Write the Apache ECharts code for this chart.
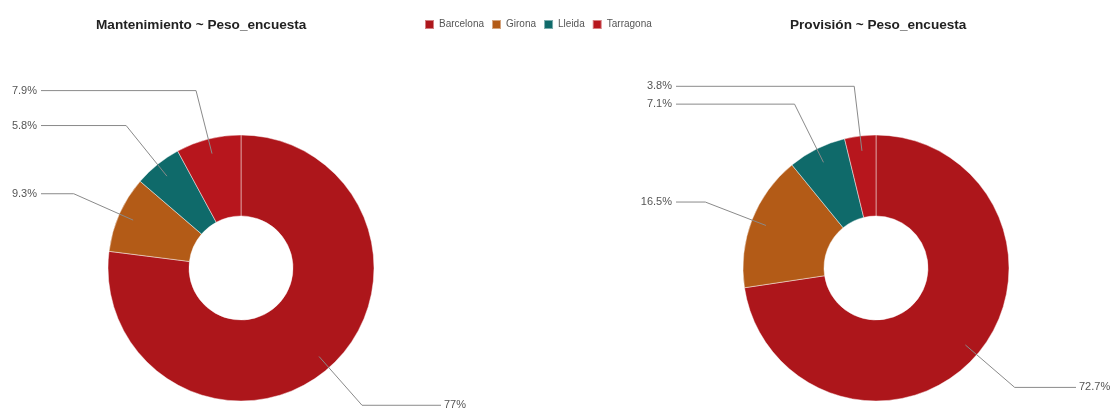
<!DOCTYPE html>
<html>
<head>
<meta charset="utf-8">
<script src="https://cdn.jsdelivr.net/npm/echarts@6/dist/echarts.min.js"></script>
<style>
  html, body { margin: 0; padding: 0; background: #fff; }
  #chart { width: 1114px; height: 408px; }
</style>
</head>
<body>
<div id="chart"></div>
<script>
// Survey-weighted shares by province
const provinces = ['Barcelona', 'Girona', 'Lleida', 'Tarragona'];
const mantenimiento = [77, 9.3, 5.8, 7.9];
const provision = [72.7, 16.5, 7.1, 3.8];
const titles = ['Mantenimiento ~ Peso_encuesta', 'Provisión ~ Peso_encuesta'];
const colors = ['#ad161b', '#b35b17', '#0f6a6a', '#b7161d'];

const FONT = 'Liberation Sans, Arial, sans-serif';
const centers = [[241, 268], [876, 268]];
const R_OUT = 133, R_IN = 52;
const LINE_REACH = 200;   // horizontal distance from pie centre to the end of each label line
const LINE_INSET = 15;    // label lines start a little inside the ring

const chart = echarts.init(document.getElementById('chart'), null, { renderer: 'canvas' });

function toData(values) {
  return provinces.map((name, i) => ({ name, value: values[i] }));
}

// Straight elbow lines: start inside the ring, bend, then run horizontally
// to a fixed distance either side of the pie centre.
function makeLayout(cx) {
  return function (params) {
    const pts = params.labelLinePoints;
    if (!pts) return {};
    const p0 = pts[0], p1 = pts[1];
    const vx = p1[0] - p0[0], vy = p1[1] - p0[1];
    const len = Math.sqrt(vx * vx + vy * vy) || 1;
    const ux = vx / len, uy = vy / len;
    const left = p1[0] < cx;
    const endX = left ? cx - LINE_REACH : cx + LINE_REACH;
    return {
      x: left ? endX - 4 : endX + 3,
      y: p1[1],
      align: left ? 'right' : 'left',
      verticalAlign: 'middle',
      labelLinePoints: [
        [p0[0] - ux * LINE_INSET, p0[1] - uy * LINE_INSET],
        [p1[0], p1[1]],
        [endX, p1[1]]
      ]
    };
  };
}

// Filled ring (no labels)
function ringSeries(values, idx) {
  const c = centers[idx];
  return {
    type: 'pie',
    name: titles[idx],
    z: 2,
    center: [c[0], c[1]],
    radius: [R_IN, R_OUT],
    startAngle: 90,
    clockwise: true,
    silent: true,
    animation: false,
    data: toData(values),
    itemStyle: { borderColor: 'rgba(255,255,255,0.45)', borderWidth: 1 },
    label: { show: false },
    labelLine: { show: false }
  };
}

// Same ring, transparent, carrying the percentage labels so their lines sit above the fill
function labelSeries(values, idx) {
  const c = centers[idx];
  return {
    type: 'pie',
    name: titles[idx] + ' labels',
    z: 3,
    center: [c[0], c[1]],
    radius: [R_IN, R_OUT],
    startAngle: 90,
    clockwise: true,
    avoidLabelOverlap: false,
    silent: true,
    animation: false,
    legendHoverLink: false,
    data: toData(values),
    itemStyle: { color: 'rgba(0,0,0,0)', borderWidth: 0 },
    label: {
      show: true,
      position: 'outside',
      formatter: p => p.value + '%',
      color: '#555',
      fontSize: 11,
      fontFamily: FONT
    },
    labelLine: {
      show: true,
      length: 50,
      length2: 20,
      smooth: false,
      lineStyle: { color: '#8a8a8a', width: 1 }
    },
    labelLayout: makeLayout(c[0])
  };
}

const titleStyle = { fontFamily: FONT, fontSize: 13.6, fontWeight: 'bold', color: '#222' };

chart.setOption({
  backgroundColor: '#fff',
  color: colors,
  animation: false,
  title: [
    { text: titles[0], left: 91, top: 13, textStyle: titleStyle },
    { text: titles[1], left: 785, top: 13, textStyle: titleStyle }
  ],
  legend: {
    data: provinces,
    left: 419,
    top: 14,
    icon: 'rect',
    itemWidth: 9,
    itemHeight: 9,
    itemGap: 7,
    textStyle: { fontFamily: FONT, fontSize: 10, color: '#555' },
    selectedMode: false
  },
  series: [
    ringSeries(mantenimiento, 0), ringSeries(provision, 1),
    labelSeries(mantenimiento, 0), labelSeries(provision, 1)
  ]
});
</script>
</body>
</html>
